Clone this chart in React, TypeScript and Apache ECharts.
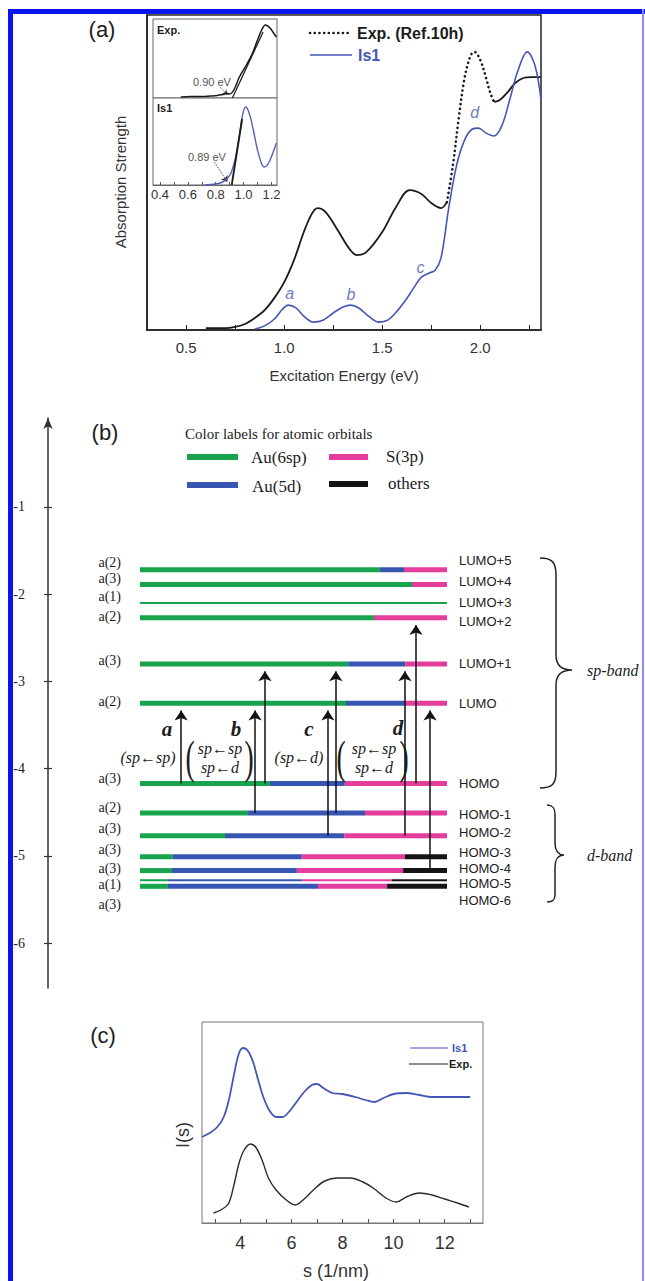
import React, { useEffect, useRef } from "react";
import * as echarts from "echarts";

const SANS = "'Liberation Sans', Arial, sans-serif";
const SERIF = "'Liberation Serif', 'Times New Roman', serif";
const IS1_BLUE = "#4656b4";
const INK = "#1c1c1c";

// ---------- (a) absorption spectra: [energy eV, strength a.u.] ----------
const energyLabelValues = [0.5, 1.0, 1.5, 2.0];
const energyTickValues = [0.5, 0.75, 1.0, 1.25, 1.5, 1.75, 2.0, 2.25];
const expSolidLow = [
  [0.6, 0.6], [0.7, 0.6], [0.75, 1.0], [0.8, 1.9], [0.85, 3.8], [0.9, 6.3], [0.95, 10.2],
  [1.0, 15.2], [1.05, 22.2], [1.1, 31.1], [1.14, 36.8], [1.17, 38.7], [1.21, 37.5],
  [1.27, 32.0], [1.33, 26.0], [1.37, 23.8], [1.42, 24.8], [1.5, 31.1], [1.57, 39.0],
  [1.64, 44.4], [1.7, 43.2], [1.75, 40.3], [1.8, 38.7], [1.83, 40.6],
];
const expDotted = [
  [1.83, 40.6], [1.86, 52], [1.89, 67], [1.92, 80], [1.95, 87], [1.97, 88.3], [2.0, 85.7],
  [2.03, 80], [2.05, 75.5], [2.07, 72.4],
];
const expSolidHigh = [
  [2.07, 72.4], [2.1, 73.0], [2.14, 75.5], [2.18, 78.5], [2.22, 80.0], [2.26, 80.3], [2.31, 80.3],
];
const is1Absorption = [
  [0.85, 0.3], [0.9, 1.3], [0.95, 3.5], [0.99, 6.5], [1.02, 7.9], [1.06, 7.0], [1.1, 4.4],
  [1.15, 2.5], [1.2, 3.2], [1.25, 5.4], [1.3, 7.3], [1.34, 7.9], [1.38, 7.0], [1.43, 4.4],
  [1.48, 2.5], [1.53, 3.2], [1.58, 6.3], [1.62, 9.5], [1.66, 13.3], [1.7, 16.8], [1.74, 18.1],
  [1.77, 19.0], [1.8, 22.9], [1.84, 39.0], [1.88, 52.4], [1.92, 60.3], [1.96, 63.8],
  [1.99, 64.1], [2.03, 62.5], [2.07, 61.6], [2.11, 64.8], [2.15, 73.0], [2.19, 81.9],
  [2.24, 88.3], [2.28, 83.8], [2.31, 73.0],
];
const peakNames = ["a", "b", "c", "d"];
const peakLabelPoints = [[1.028, 11.7], [1.341, 11.4], [1.695, 20.0], [1.972, 68.9]];

// ---------- (a) inset: absorption onset ----------
const insetLabelValues = [0.4, 0.6, 0.8, 1.0, 1.2];
const insetTickValues = [0.4, 0.5, 0.6, 0.7, 0.8, 0.9, 1.0, 1.1, 1.2];
const insetExp = [
  [0.55, 1], [0.62, 1.5], [0.7, 1.5], [0.76, 2], [0.81, 2.5], [0.85, 3.5], [0.88, 4.7],
  [0.9, 4], [0.93, 8], [0.97, 21], [1.02, 33], [1.065, 45], [1.1, 58], [1.13, 68],
  [1.157, 73], [1.19, 70], [1.215, 65], [1.236, 61],
];
const insetExpFit = [[0.92, 0], [1.14, 66]];
const insetIs1 = [
  [0.72, 0], [0.8, 1], [0.85, 3], [0.88, 6], [0.91, 12], [0.94, 26], [0.97, 50], [0.99, 68],
  [1.014, 78], [1.04, 72], [1.07, 55], [1.1, 35], [1.13, 21], [1.15, 18], [1.18, 22],
  [1.21, 32], [1.236, 42],
];
const insetIs1Fit = [[0.915, 0], [0.99, 66]];
const onsetLabels = ["0.90 eV", "0.89 eV"];
const onsetArrowExp = [[0.83, 11], [0.885, 3]];
const onsetArrowIs1 = [[0.79, 23], [0.885, 3]];

// ---------- (b) orbital energy levels ----------
const energyAxisValues = [-1, -2, -3, -4, -5, -6];
const levelNames = ["LUMO+5", "LUMO+4", "LUMO+3", "LUMO+2", "LUMO+1", "LUMO", "HOMO",
  "HOMO-1", "HOMO-2", "HOMO-3", "HOMO-4", "HOMO-5", "HOMO-6"];
const levelSymmetry = ["a(2)", "a(3)", "a(1)", "a(2)", "a(3)", "a(2)", "a(3)", "a(2)",
  "a(3)", "a(3)", "a(3)", "a(1)", "a(3)"];
const levelEnergy = [-1.72, -1.89, -2.1, -2.27, -2.8, -3.25, -4.17, -4.51, -4.77, -5.01,
  -5.17, -5.28, -5.35];
const orbitalNames = ["Au(6sp)", "Au(5d)", "S(3p)", "others"];
const orbitalColors = ["#17a44c", "#3656b2", "#e43d9c", "#141414"];
// composition in % of [Au(6sp), Au(5d), S(3p), others]
const compositionSp = [78.2, 88.6, 100, 76.2, 67.8, 67.1, 42.3, 35.2, 27.7, 10.7, 10.4, 9.1, 9.1];
const compositionD = [7.8, 0, 0, 0, 18.6, 19.2, 24.4, 38.1, 38.8, 42.0, 40.7, 43.6, 48.9];
const compositionS = [14.0, 11.4, 0, 23.8, 13.6, 13.7, 33.3, 26.7, 33.5, 33.6, 34.6, 29.3, 22.5];
const compositionOther = [0, 0, 0, 0, 0, 0, 0, 0, 0, 13.7, 14.3, 18.0, 19.5];
const degenerateThin = ["LUMO+3", "HOMO-5"];
const transitionFrom = ["HOMO", "HOMO-1", "HOMO", "HOMO-2", "HOMO-1", "HOMO-2", "HOMO", "HOMO-4"];
const transitionTo = ["LUMO", "LUMO", "LUMO+1", "LUMO", "LUMO+1", "LUMO+1", "LUMO+2", "LUMO"];
const transitionAt = [13.4, 37.5, 40.7, 61.2, 63.8, 86.3, 89.9, 94.5];
const transitionPeaks = ["a", "b", "c", "d"];

// ---------- (c) scattering ----------
const sLabelValues = [4, 6, 8, 10, 12];
const sTickValues = [3, 4, 5, 6, 7, 8, 9, 10, 11, 12, 13];
const is1Scattering = [
  [2.5, 86], [2.8, 90], [3.1, 96], [3.35, 106], [3.55, 123], [3.75, 148], [3.95, 170],
  [4.12, 175], [4.3, 172], [4.5, 161], [4.7, 143], [4.9, 126], [5.15, 112], [5.4, 106],
  [5.65, 106], [5.9, 111], [6.2, 121], [6.5, 131], [6.8, 138], [7.0, 139], [7.25, 135],
  [7.6, 130], [8.0, 129], [8.5, 126], [8.9, 123], [9.25, 121], [9.6, 125], [10.0, 129],
  [10.5, 130], [11.0, 128], [11.5, 126], [12.0, 126], [13.0, 126],
];
const expScattering = [
  [2.95, 10], [3.3, 14], [3.55, 20], [3.75, 38], [3.95, 60], [4.15, 73], [4.4, 79],
  [4.6, 76], [4.85, 63], [5.1, 45], [5.4, 33], [5.8, 23], [6.15, 18], [6.5, 24], [6.9, 34],
  [7.3, 42], [7.8, 45], [8.3, 45], [8.8, 41], [9.2, 35], [9.7, 25], [10.1, 21], [10.5, 26],
  [11.0, 30], [11.5, 28], [12.0, 24], [12.5, 20], [12.95, 16],
];

// ---------- layout-only offsets for level labels (px) ----------
const leftLabelDy = [-7, -6, -6, -1, -3, -2, -5, -6, -7, -7, -2, 4, 18];
const rightLabelDy = [-9, -3, 0, 4, 0, 0, 0, 1, -3, -4, -2, 3, 14];

// braces
echarts.graphic.registerShape(
  "braceSp",
  echarts.graphic.extendPath(
    "M540 558 C552 558 556 562 556 575 L556 655 C556 665 562 670 572 670 C562 670 556 675 556 685 L556 772 C556 784 552 788 540 788",
    {}
  )
);
echarts.graphic.registerShape(
  "braceD",
  echarts.graphic.extendPath(
    "M547 805 C553 805 555 808 555 815 L555 843 C555 850 558 855 564 855 C558 855 555 860 555 867 L555 895 C555 900 553 902 547 902",
    {}
  )
);

function txt(x: number, y: number, text: string, o: any = {}) {
  const align = o.align || "center";
  const valign = o.valign || "middle";
  return {
    type: "text",
    x,
    y,
    rotation: o.rotation || 0,
    scaleX: o.scaleX || 1,
    scaleY: o.scaleY || 1,
    z: 50,
    style: {
      text,
      fill: o.fill || INK,
      fontSize: o.size || 14,
      fontFamily: o.family || SANS,
      fontWeight: o.weight || "normal",
      fontStyle: o.style || "normal",
      align,
      verticalAlign: valign,
      textAlign: align,
      textVerticalAlign: valign,
    },
  };
}

export default function App() {
  const ref = useRef<HTMLDivElement>(null);
  useEffect(() => {
    if (!ref.current) return;
    const chart = echarts.init(ref.current, null, { renderer: "svg" });
    const levelIndex = (n: string) => levelNames.indexOf(n);
    const comps = levelNames.map((_, i) => [compositionSp[i], compositionD[i], compositionS[i], compositionOther[i]]);

    const arrowsData = transitionFrom.map((f, k) => {
      const e0 = levelEnergy[levelIndex(f)];
      const e1 = levelEnergy[levelIndex(transitionTo[k])];
      return { coords: [[transitionAt[k], e0], [transitionAt[k], e1 - 0.085]] };
    });

    const lineBase = { type: "line", symbol: "none", smooth: 0.35, silent: true };
    const dotStyle = { color: "#1a1a1a", width: 2.6, type: [0.1, 4.6], cap: "round" };

    const option: any = {
      animation: false,
      backgroundColor: "#ffffff",
      grid: [
        { left: 147, top: 15, width: 394, height: 315, show: true, borderColor: "#222", borderWidth: 1.5, backgroundColor: "transparent" },
        { left: 153, top: 19, width: 124, height: 79, show: true, borderColor: "#666", borderWidth: 1, backgroundColor: "#fff" },
        { left: 153, top: 98, width: 124, height: 87, show: true, borderColor: "#666", borderWidth: 1, backgroundColor: "#fff" },
        { left: 140, top: 418, width: 307, height: 570 },
        { left: 202, top: 1022, width: 281, height: 201, show: true, borderColor: "#777", borderWidth: 1 },
      ],
      xAxis: [
        {
          gridIndex: 0, type: "value", min: 0.3, max: 2.31,
          axisLine: { onZero: false, lineStyle: { color: "#222", width: 1.5 } },
          axisTick: { customValues: energyTickValues, inside: true, length: 5, lineStyle: { color: "#222" } },
          axisLabel: { customValues: energyLabelValues, formatter: (v: number) => v.toFixed(1), fontSize: 15, color: "#333", margin: 10, fontFamily: SANS },
          splitLine: { show: false },
        },
        {
          gridIndex: 1, type: "value", min: 0.35, max: 1.24,
          axisLine: { show: false }, axisTick: { show: false }, axisLabel: { show: false }, splitLine: { show: false },
        },
        {
          gridIndex: 2, type: "value", min: 0.35, max: 1.24,
          axisLine: { onZero: false, lineStyle: { color: "#666" } },
          axisTick: { customValues: insetTickValues, inside: true, length: 3, lineStyle: { color: "#555" } },
          axisLabel: { customValues: insetLabelValues, formatter: (v: number) => v.toFixed(1), fontSize: 13, color: "#333", margin: 3, fontFamily: SANS },
          splitLine: { show: false },
        },
        { gridIndex: 3, type: "value", min: 0, max: 100, show: false },
        {
          gridIndex: 4, type: "value", min: 2.5, max: 13.5,
          axisLine: { onZero: false, lineStyle: { color: "#777" } },
          axisTick: { customValues: sTickValues, inside: true, length: 4, lineStyle: { color: "#555" } },
          axisLabel: { customValues: sLabelValues, fontSize: 18, color: "#333", margin: 11, fontFamily: SANS },
          splitLine: { show: false },
        },
      ],
      yAxis: [
        {
          gridIndex: 0, type: "value", min: 0, max: 100,
          axisLine: { show: true, onZero: false, lineStyle: { color: "#222", width: 1.5 } },
          axisTick: { show: false }, axisLabel: { show: false }, splitLine: { show: false },
        },
        { gridIndex: 1, type: "value", min: 0, max: 79, axisLine: { show: false }, axisTick: { show: false }, axisLabel: { show: false }, splitLine: { show: false } },
        { gridIndex: 2, type: "value", min: 0, max: 87, axisLine: { show: false }, axisTick: { show: false }, axisLabel: { show: false }, splitLine: { show: false } },
        {
          gridIndex: 3, type: "value", position: "left", min: -6.516, max: 0.02, offset: 92,
          axisLine: { show: true, onZero: false, symbol: ["none", "arrow"], symbolSize: [7, 11], lineStyle: { color: "#333", width: 1.5 } },
          axisTick: { show: true, customValues: energyAxisValues, length: 4, lineStyle: { color: "#333", width: 1.2 } },
          axisLabel: { customValues: energyAxisValues, fontSize: 14, color: "#222", margin: 23, fontFamily: SERIF },
          splitLine: { show: false },
        },
        {
          gridIndex: 3, type: "value", position: "left", min: -6.516, max: 0.02, offset: 92,
          axisLine: { show: false, onZero: false },
          axisTick: { show: true, customValues: energyAxisValues, inside: true, length: 4, lineStyle: { color: "#333", width: 1.2 } },
          axisLabel: { show: false }, splitLine: { show: false },
        },
        { gridIndex: 4, type: "value", min: 0, max: 201, axisLine: { show: false }, axisTick: { show: false }, axisLabel: { show: false }, splitLine: { show: false } },
      ],
      series: [
        { ...lineBase, name: "Exp.", xAxisIndex: 0, yAxisIndex: 0, data: expSolidLow, lineStyle: { color: "#1a1a1a", width: 1.8 } },
        { ...lineBase, name: "Exp. dotted", xAxisIndex: 0, yAxisIndex: 0, data: expDotted, lineStyle: dotStyle },
        { ...lineBase, name: "Exp. high", xAxisIndex: 0, yAxisIndex: 0, data: expSolidHigh, lineStyle: { color: "#1a1a1a", width: 1.8 } },
        { ...lineBase, name: "Is1", xAxisIndex: 0, yAxisIndex: 0, data: is1Absorption, lineStyle: { color: IS1_BLUE, width: 1.6 } },
        {
          type: "scatter", xAxisIndex: 0, yAxisIndex: 0, symbolSize: 1, silent: true,
          itemStyle: { color: "transparent" },
          data: peakNames.map((n, i) => ({ name: n, value: peakLabelPoints[i] })),
          label: { show: true, position: "inside", formatter: "{b}", color: IS1_BLUE, fontSize: 16, fontStyle: "italic", fontFamily: SANS },
        },
        // inset
        { ...lineBase, xAxisIndex: 1, yAxisIndex: 1, data: insetExp, lineStyle: { color: "#1a1a1a", width: 1.5 } },
        { ...lineBase, smooth: false, xAxisIndex: 1, yAxisIndex: 1, data: insetExpFit, lineStyle: { color: "#1a1a1a", width: 1.2 } },
        { ...lineBase, xAxisIndex: 2, yAxisIndex: 2, data: insetIs1, lineStyle: { color: "#5560b8", width: 1.4 } },
        { ...lineBase, smooth: false, xAxisIndex: 2, yAxisIndex: 2, data: insetIs1Fit, lineStyle: { color: "#1a1a1a", width: 1.8 } },
        {
          type: "lines", coordinateSystem: "cartesian2d", xAxisIndex: 1, yAxisIndex: 1, silent: true,
          symbol: ["none", "arrow"], symbolSize: 5,
          lineStyle: { color: "#555", width: 1, type: "dotted", opacity: 1 },
          data: [{ coords: onsetArrowExp }],
        },
        {
          type: "lines", coordinateSystem: "cartesian2d", xAxisIndex: 2, yAxisIndex: 2, silent: true,
          symbol: ["none", "arrow"], symbolSize: 6,
          lineStyle: { color: "#333", width: 1, type: "dotted", opacity: 1 },
          data: [{ coords: onsetArrowIs1 }],
        },
        // (b) levels
        {
          type: "custom", xAxisIndex: 3, yAxisIndex: 3, clip: false, silent: true,
          data: levelEnergy.map((e, i) => [50, e, i]),
          encode: { x: 0, y: 1 },
          renderItem: (params: any, api: any) => {
            const i = params.dataIndex;
            const E = levelEnergy[i];
            const thick = degenerateThin.includes(levelNames[i]) ? 2 : 5;
            const children: any[] = [];
            let acc = 0;
            comps[i].forEach((w, k) => {
              if (w <= 0) return;
              const p0 = api.coord([acc, E]);
              const p1 = api.coord([acc + w, E]);
              children.push({
                type: "rect",
                shape: { x: p0[0], y: p0[1] - thick / 2, width: p1[0] - p0[0], height: thick },
                style: { fill: orbitalColors[k] },
              });
              acc += w;
            });
            const pL = api.coord([0, E]);
            const pR = api.coord([100, E]);
            children.push(txt(pL[0] - 19, pL[1] + leftLabelDy[i], levelSymmetry[i], { align: "right", family: SERIF, size: 14 }));
            children.push(txt(pR[0] + 12, pR[1] + rightLabelDy[i], levelNames[i], { align: "left", family: SANS, size: 13, fill: "#222" }));
            return { type: "group", children };
          },
        },
        {
          type: "lines", coordinateSystem: "cartesian2d", xAxisIndex: 3, yAxisIndex: 3, silent: true, z: 5,
          symbol: ["none", "arrow"], symbolSize: [7, 10],
          lineStyle: { color: "#111", width: 1.5, opacity: 1 },
          data: arrowsData,
        },
        // (c)
        { ...lineBase, xAxisIndex: 4, yAxisIndex: 5, data: is1Scattering, lineStyle: { color: IS1_BLUE, width: 1.8 } },
        { ...lineBase, xAxisIndex: 4, yAxisIndex: 5, data: expScattering, lineStyle: { color: "#2a2a2a", width: 1.4 } },
      ],
      graphic: [
        // outer blue frame
        { type: "rect", shape: { x: 8, y: 9, width: 5, height: 1272 }, style: { fill: "#0a14f0" }, z: 0 },
        { type: "rect", shape: { x: 8, y: 9, width: 637, height: 5 }, style: { fill: "#0a14f0" }, z: 100 },
        { type: "rect", shape: { x: 642, y: 9, width: 2, height: 1272 }, style: { fill: "#8a8cf5" }, z: 100 },
        // (a)
        txt(102, 29, "(a)", { size: 22 }),
        { type: "line", shape: { x1: 310, y1: 33, x2: 350, y2: 33 }, style: { stroke: "#1a1a1a", lineWidth: 2.6, lineDash: [0.1, 4.6], lineCap: "round" }, z: 50 },
        txt(357, 33, "Exp. (Ref.10h)", { align: "left", size: 16, weight: "bold" }),
        { type: "line", shape: { x1: 310, y1: 55, x2: 352, y2: 55 }, style: { stroke: IS1_BLUE, lineWidth: 1.6 }, z: 50 },
        txt(358, 55, "Is1", { align: "left", size: 16, weight: "bold", fill: IS1_BLUE }),
        txt(157, 30, "Exp.", { align: "left", size: 11, weight: "bold" }),
        txt(157, 108, "Is1", { align: "left", size: 11, weight: "bold" }),
        txt(193, 82, onsetLabels[0], { align: "left", size: 11, fill: "#555" }),
        txt(188, 157, onsetLabels[1], { align: "left", size: 11, fill: "#555" }),
        txt(120, 182, "Absorption Strength", { size: 15, rotation: Math.PI / 2, fill: "#333" }),
        txt(344, 375, "Excitation Energy (eV)", { size: 15, fill: "#333" }),
        // (b)
        txt(105, 432, "(b)", { size: 22 }),
        txt(185, 434, "Color labels for atomic orbitals", { align: "left", size: 15, family: SERIF }),
        { type: "rect", shape: { x: 187, y: 454, width: 51, height: 6 }, style: { fill: orbitalColors[0] }, z: 50 },
        txt(251, 457, orbitalNames[0], { align: "left", size: 17, family: SERIF }),
        { type: "rect", shape: { x: 329, y: 454, width: 39, height: 6 }, style: { fill: orbitalColors[2] }, z: 50 },
        txt(386, 456, orbitalNames[2], { align: "left", size: 17, family: SERIF }),
        { type: "rect", shape: { x: 187, y: 482, width: 51, height: 6 }, style: { fill: orbitalColors[1] }, z: 50 },
        txt(252, 486, orbitalNames[1], { align: "left", size: 17, family: SERIF }),
        { type: "rect", shape: { x: 329, y: 481, width: 39, height: 6 }, style: { fill: orbitalColors[3] }, z: 50 },
        txt(388, 483, orbitalNames[3], { align: "left", size: 17, family: SERIF }),
        // transition labels
        txt(167, 729, transitionPeaks[0], { size: 21, family: SERIF, weight: "bold", style: "italic" }),
        txt(236, 729, transitionPeaks[1], { size: 21, family: SERIF, weight: "bold", style: "italic" }),
        txt(309, 729, transitionPeaks[2], { size: 21, family: SERIF, weight: "bold", style: "italic" }),
        txt(398, 728, transitionPeaks[3], { size: 21, family: SERIF, weight: "bold", style: "italic" }),
        txt(148, 757, "(sp\u2190sp)", { size: 16, family: SERIF, style: "italic" }),
        txt(299, 757, "(sp\u2190d)", { size: 16, family: SERIF, style: "italic" }),
        txt(220, 748, "sp\u2190sp", { size: 16, family: SERIF, style: "italic" }),
        txt(220, 767, "sp\u2190d", { size: 16, family: SERIF, style: "italic" }),
        txt(190, 757, "(", { size: 46, family: SERIF, scaleX: 0.6 }),
        txt(249, 757, ")", { size: 46, family: SERIF, scaleX: 0.6 }),
        txt(374, 748, "sp\u2190sp", { size: 16, family: SERIF, style: "italic" }),
        txt(374, 767, "sp\u2190d", { size: 16, family: SERIF, style: "italic" }),
        txt(341, 757, "(", { size: 46, family: SERIF, scaleX: 0.6 }),
        txt(404, 757, ")", { size: 46, family: SERIF, scaleX: 0.6 }),
        // braces
        { type: "braceSp", style: { stroke: "#222", fill: "none", lineWidth: 1.5 }, z: 50 },
        { type: "braceD", style: { stroke: "#222", fill: "none", lineWidth: 1.5 }, z: 50 },
        txt(587, 670, "sp-band", { align: "left", size: 16, family: SERIF, style: "italic" }),
        txt(587, 855, "d-band", { align: "left", size: 16, family: SERIF, style: "italic" }),
        // (c)
        txt(103, 1035, "(c)", { size: 22 }),
        { type: "line", shape: { x1: 410, y1: 1048, x2: 448, y2: 1048 }, style: { stroke: IS1_BLUE, lineWidth: 1.2 }, z: 50 },
        txt(452, 1048, "Is1", { align: "left", size: 11, weight: "bold", fill: IS1_BLUE }),
        { type: "line", shape: { x1: 409, y1: 1064, x2: 448, y2: 1064 }, style: { stroke: "#222", lineWidth: 1.2 }, z: 50 },
        txt(449, 1064, "Exp.", { align: "left", size: 11, weight: "bold" }),
        txt(183, 1135, "I(s)", { size: 18, rotation: Math.PI / 2, fill: "#333" }),
        txt(336, 1271, "s (1/nm)", { size: 18, fill: "#333" }),
      ],
    };
    chart.setOption(option);
    return () => chart.dispose();
  }, []);
  return (
    <div
      ref={ref}
      style={{ position: "fixed", left: 0, top: 0, width: 645, height: 1281, background: "#fff" }}
    />
  );
}
